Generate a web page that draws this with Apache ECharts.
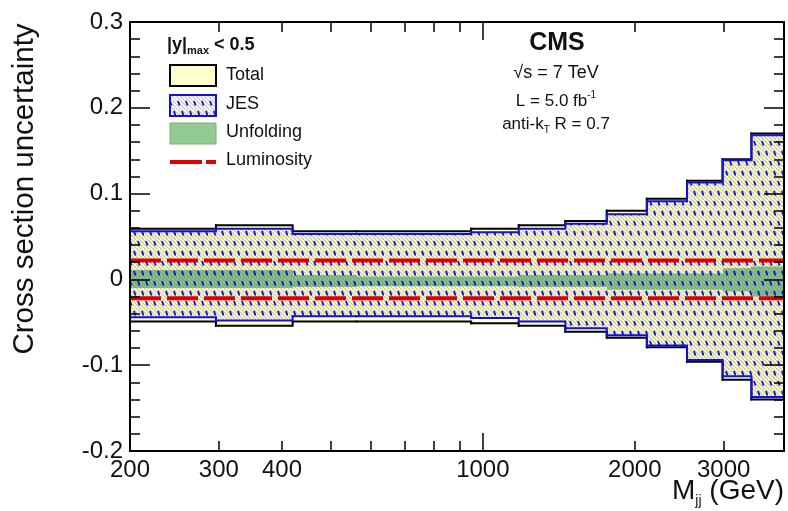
<!DOCTYPE html>
<html><head><meta charset="utf-8">
<script src="https://cdn.jsdelivr.net/npm/echarts@6/dist/echarts.min.js"></script>
<style>html,body{margin:0;padding:0;background:#fff}#c{width:788px;height:511px}</style>
</head><body><div id="c"></div>
<script>
// ---- data ----
const binEdges  = [200, 296, 420, 562, 948, 1178, 1457, 1760, 2113, 2538, 2985, 3405, 3950];
const totalUp   = [0.059, 0.063, 0.056, 0.056, 0.059, 0.063, 0.068, 0.080, 0.094, 0.115, 0.140, 0.170];
const totalDown = [-0.049, -0.054, -0.049, -0.049, -0.051, -0.054, -0.061, -0.068, -0.079, -0.096, -0.117, -0.140];
const jesUp     = [0.056, 0.059, 0.053, 0.053, 0.055, 0.059, 0.065, 0.076, 0.091, 0.113, 0.139, 0.168];
const jesDown   = [-0.044, -0.048, -0.043, -0.043, -0.045, -0.049, -0.057, -0.065, -0.077, -0.094, -0.113, -0.137];
const unfUp     = [0.011, 0.011, 0.005, 0.0035, 0.0035, 0.005, 0.005, 0.007, 0.007, 0.007, 0.013, 0.015];
const unfDown   = [-0.010, -0.010, -0.009, -0.008, -0.008, -0.009, -0.009, -0.012, -0.012, -0.012, -0.014, -0.020];
const lumiUnc   = 0.022;
const xTickValues  = [200, 300, 400, 500, 600, 700, 800, 900, 2000, 3000];
const xMajorTicks  = [1000];
const xLabelValues = [200, 300, 400, 1000, 2000, 3000];
const yMin = -0.2, yMax = 0.3, yStep = 0.1;

// ---- styles ----
const FONT = '"Liberation Sans", Arial, Helvetica, sans-serif';
const TXT = '#111';
const YELLOW = '#ffffcc';
const GREEN = '#86c486';
const BLUE = '#1010e0';
const RED = '#dd0000';

function makeHatch() {
  const c = document.createElement('canvas');
  c.width = 16; c.height = 20;
  const g = c.getContext('2d');
  g.strokeStyle = 'rgba(115,115,115,0.42)';
  g.lineWidth = 1.2;
  for (let k = -24; k < 24; k += 4) {
    g.beginPath(); g.moveTo(k, 0); g.lineTo(k + 20, 20); g.stroke();
  }
  g.strokeStyle = BLUE; g.lineWidth = 1.9; g.lineCap = 'butt';
  const marks = [[2, 1], [10, 1], [6, 11], [14, 11]];
  marks.forEach(([x, y]) => { g.beginPath(); g.moveTo(x, y); g.lineTo(x + 1.5, y + 4.5); g.stroke(); });
  return c;
}
const hatch = { image: makeHatch(), repeat: 'repeat' };

function bandSeries(name, lo, hi, fill, z) {
  const data = lo.map((l, i) => [binEdges[i], binEdges[i + 1], l, hi[i]]);
  return {
    type: 'custom', name, z, silent: true, data, clip: true,
    encode: { x: [0, 1], y: [2, 3] },
    renderItem(params, api) {
      const p0 = api.coord([api.value(0), api.value(3)]);
      const p1 = api.coord([api.value(1), api.value(2)]);
      const x0 = Math.round(p0[0]), x1 = Math.round(p1[0]);
      return { type: 'rect', shape: { x: x0, y: p0[1], width: x1 - x0, height: p1[1] - p0[1] }, style: { fill } };
    }
  };
}
// step outline: each bin draws its horizontal edge and the riser to the next bin
function outlineSeries(vals, color, width, z) {
  const data = vals.map((v, i) => [binEdges[i], binEdges[i + 1], v, i + 1 < vals.length ? vals[i + 1] : v]);
  return {
    type: 'custom', z, silent: true, data, clip: true,
    encode: { x: [0, 1], y: [2, 3] },
    renderItem(params, api) {
      const a = api.coord([api.value(0), api.value(2)]);
      const b = api.coord([api.value(1), api.value(2)]);
      const c = api.coord([api.value(1), api.value(3)]);
      return { type: 'polyline', shape: { points: [a, b, c] },
        style: { stroke: color, lineWidth: width, fill: null, lineCap: 'square', lineJoin: 'miter' } };
    }
  };
}
function lumiLine(v) {
  return { type: 'line', data: [[binEdges[0], v], [binEdges[binEdges.length - 1], v]], symbol: 'none', z: 8, silent: true,
    lineStyle: { color: RED, width: 4, type: [31, 6] } };
}

function xAxisDef(pos, ticks, len, showLabels, showLine) {
  return {
    type: 'log', logBase: 10, min: binEdges[0], max: binEdges[binEdges.length - 1], position: pos, z: 10,
    axisLine: { show: showLine, onZero: false, lineStyle: { color: '#000', width: 2 } },
    axisTick: { show: true, inside: true, length: len, customValues: ticks, lineStyle: { color: '#000', width: 1.5 } },
    axisLabel: { show: showLabels, customValues: xLabelValues, margin: 7, color: TXT, fontSize: 24, fontFamily: FONT,
      formatter: v => String(Math.round(v)) },
    splitLine: { show: false }, minorTick: { show: false }
  };
}
function yAxisDef(pos, showLabels) {
  return {
    type: 'value', min: yMin, max: yMax, interval: yStep, position: pos, z: 10,
    axisLine: { show: true, onZero: false, lineStyle: { color: '#000', width: 2 } },
    axisTick: { show: true, inside: true, length: 20, lineStyle: { color: '#000', width: 1.5 } },
    minorTick: { show: true, splitNumber: 5, length: 10, lineStyle: { color: '#000', width: 1.5 } },
    axisLabel: { show: showLabels, margin: 7, color: TXT, fontSize: 24, fontFamily: FONT,
      formatter: v => (Math.abs(v) < 1e-9 ? '0' : v.toFixed(1)) },
    splitLine: { show: false }
  };
}

const chart = echarts.init(document.getElementById('c'), null, { renderer: 'canvas', width: 788, height: 511 });
chart.setOption({
  animation: false,
  backgroundColor: '#fff',
  grid: { left: 130, right: 4, top: 22, bottom: 60 },
  xAxis: [
    xAxisDef('bottom', xTickValues, 10, true, true),
    xAxisDef('top', xTickValues, 10, false, true),
    xAxisDef('bottom', xMajorTicks, 18, false, false),
    xAxisDef('top', xMajorTicks, 18, false, false)
  ],
  yAxis: [yAxisDef('left', true), yAxisDef('right', false)],
  series: [
    bandSeries('Total', totalDown, totalUp, YELLOW, 1),
    bandSeries('Unfolding', unfDown, unfUp, GREEN, 2),
    bandSeries('JES', jesDown, jesUp, hatch, 3),
    outlineSeries(totalUp, '#000', 2, 4),
    outlineSeries(totalDown, '#000', 2, 4),
    outlineSeries(jesUp, BLUE, 2, 5),
    outlineSeries(jesDown, BLUE, 2, 5),
    lumiLine(lumiUnc),
    lumiLine(-lumiUnc)
  ],
  graphic: [
    { type: 'text', x: 25, y: 189, rotation: Math.PI / 2, z: 20,
      style: { text: 'Cross section uncertainty', fill: TXT, font: '29.5px ' + FONT, textAlign: 'center', textVerticalAlign: 'middle' } },
    { type: 'text', right: 4, top: 477, z: 20,
      style: { text: '{m|M}{s|jj}{m| (GeV)}', textAlign: 'right', rich: {
        m: { fontSize: 28, fontFamily: FONT, fill: TXT, color: TXT, lineHeight: 34, verticalAlign: 'middle' },
        s: { fontSize: 14, fontFamily: FONT, fill: TXT, color: TXT, lineHeight: 14, verticalAlign: 'bottom' } } } },
    // legend
    { type: 'text', x: 167, y: 34, z: 20,
      style: { text: '{b||y|}{s|max}{b| < 0.5}', rich: {
        b: { fontSize: 18, fontWeight: 'bold', fontFamily: FONT, fill: TXT, color: TXT, lineHeight: 22, verticalAlign: 'middle' },
        s: { fontSize: 11, fontWeight: 'bold', fontFamily: FONT, fill: TXT, color: TXT, lineHeight: 11, verticalAlign: 'bottom' } } } },
    { type: 'rect', shape: { x: 170, y: 65, width: 46, height: 21 }, z: 20, style: { fill: YELLOW, stroke: '#000', lineWidth: 2 } },
    { type: 'rect', shape: { x: 170, y: 95, width: 46, height: 21 }, z: 20, style: { fill: '#fff', stroke: BLUE, lineWidth: 2 } },
    { type: 'rect', shape: { x: 171, y: 96, width: 44, height: 19 }, z: 21, style: { fill: hatch } },
    { type: 'rect', shape: { x: 170, y: 123, width: 46, height: 21 }, z: 20, style: { fill: '#93c993', stroke: '#7aae7a', lineWidth: 1 } },
    { type: 'line', shape: { x1: 170, y1: 162, x2: 216, y2: 162 }, z: 20, style: { stroke: RED, lineWidth: 4, lineDash: [32, 4] } },
    { type: 'text', x: 226, y: 75, z: 20, style: { text: 'Total', fill: TXT, font: '18px ' + FONT, textVerticalAlign: 'middle' } },
    { type: 'text', x: 226, y: 104, z: 20, style: { text: 'JES', fill: TXT, font: '18px ' + FONT, textVerticalAlign: 'middle' } },
    { type: 'text', x: 226, y: 132, z: 20, style: { text: 'Unfolding', fill: TXT, font: '18px ' + FONT, textVerticalAlign: 'middle' } },
    { type: 'text', x: 226, y: 160, z: 20, style: { text: 'Luminosity', fill: TXT, font: '18px ' + FONT, textVerticalAlign: 'middle' } },
    // CMS block
    { type: 'text', x: 557, y: 43, z: 20, style: { text: 'CMS', fill: TXT, font: 'bold 25px ' + FONT, textAlign: 'center', textVerticalAlign: 'middle' } },
    { type: 'text', x: 556, y: 73, z: 20, style: { text: '\u221As = 7 TeV', fill: TXT, font: '18px ' + FONT, textAlign: 'center', textVerticalAlign: 'middle' } },
    { type: 'text', x: 556, y: 90, z: 20,
      style: { text: '{m|L = 5.0 fb}{s|-1}', textAlign: 'center', rich: {
        m: { fontSize: 17, fontFamily: FONT, fill: TXT, color: TXT, lineHeight: 22, verticalAlign: 'middle' },
        s: { fontSize: 10, fontFamily: FONT, fill: TXT, color: TXT, lineHeight: 10, verticalAlign: 'top' } } } },
    { type: 'text', x: 556, y: 113, z: 20,
      style: { text: '{m|anti-k}{s|T}{m| R = 0.7}', textAlign: 'center', rich: {
        m: { fontSize: 17, fontFamily: FONT, fill: TXT, color: TXT, lineHeight: 22, verticalAlign: 'middle' },
        s: { fontSize: 10, fontFamily: FONT, fill: TXT, color: TXT, lineHeight: 10, verticalAlign: 'bottom' } } } }
  ]
});
</script></body></html>
